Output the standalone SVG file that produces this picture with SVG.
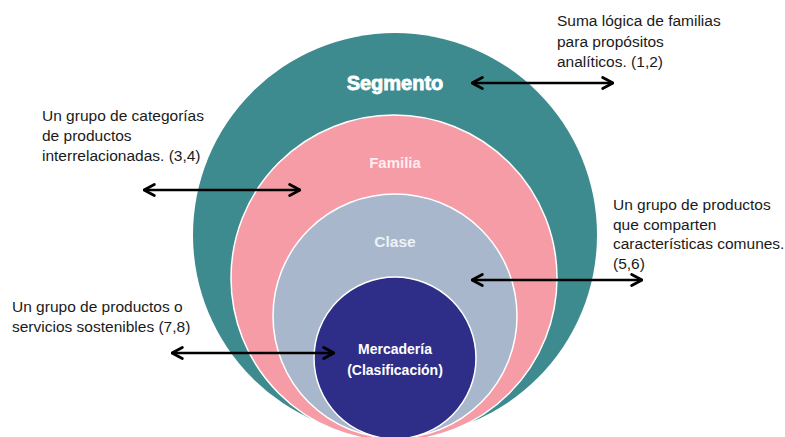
<svg xmlns="http://www.w3.org/2000/svg" width="785" height="437" viewBox="0 0 785 437">
<style>
.lbl{font-family:"Liberation Sans",Arial,sans-serif;font-size:15.5px;fill:#1a1a1a}
.in{font-family:"Liberation Sans",Arial,sans-serif;font-weight:bold;text-anchor:middle}
.arr{stroke:#000;stroke-width:2.5;fill:none;marker-start:url(#h);marker-end:url(#h)}
</style>
<defs>
<marker id="h" viewBox="0 0 10 10" refX="9" refY="5" markerWidth="5.5" markerHeight="5.5" orient="auto-start-reverse" markerUnits="strokeWidth">
<path d="M1.5,1 L9,5 L1.5,9" fill="none" stroke="#000" stroke-width="2" stroke-linecap="round" stroke-linejoin="round"/>
</marker>
</defs>
<rect width="785" height="437" fill="#fff"/>
<g id="segmento">
<circle cx="395" cy="235" r="202" fill="#3d8b8f"/>
<text class="in" x="395" y="90" font-size="20" fill="#fff" stroke="#fff" stroke-width="0.8">Segmento</text>
</g>
<g id="familia">
<circle cx="394" cy="278" r="163" fill="#f59ca6" stroke="#fff" stroke-width="1.5"/>
<text class="in" x="395" y="168" font-size="15" fill="#fdeef0">Familia</text>
</g>
<g id="clase">
<circle cx="395" cy="316" r="122" fill="#a8b7cb" stroke="#fff" stroke-width="1.5"/>
<text class="in" x="395" y="247" font-size="15.5" fill="#eef2f7">Clase</text>
</g>
<g id="mercaderia">
<circle cx="395" cy="358" r="81" fill="#2e2d88" stroke="#fff" stroke-width="1.5"/>
<text class="in" x="395" y="354" font-size="14" fill="#fff">Mercadería</text>
<text class="in" x="395" y="375" font-size="14" fill="#fff">(Clasificación)</text>
</g>
<g id="labels">
<text class="lbl" x="557" y="26">Suma lógica de familias</text>
<text class="lbl" x="557" y="46.5">para propósitos</text>
<text class="lbl" x="557" y="67">analíticos. (1,2)</text>
<text class="lbl" x="42" y="121">Un grupo de categorías</text>
<text class="lbl" x="42" y="141">de productos</text>
<text class="lbl" x="42" y="161">interrelacionadas. (3,4)</text>
<text class="lbl" x="613" y="210">Un grupo de productos</text>
<text class="lbl" x="613" y="229.5">que comparten</text>
<text class="lbl" x="613" y="249">características comunes.</text>
<text class="lbl" x="613" y="268.5">(5,6)</text>
<text class="lbl" x="12" y="312">Un grupo de productos o</text>
<text class="lbl" x="12" y="332">servicios sostenibles (7,8)</text>
</g>
<g id="connectors">
<line class="arr" x1="472" y1="83" x2="613" y2="83"/>
<line class="arr" x1="144" y1="190" x2="300" y2="190"/>
<line class="arr" x1="472" y1="280" x2="642" y2="280"/>
<line class="arr" x1="172" y1="353" x2="334" y2="353"/>
</g>
</svg>
